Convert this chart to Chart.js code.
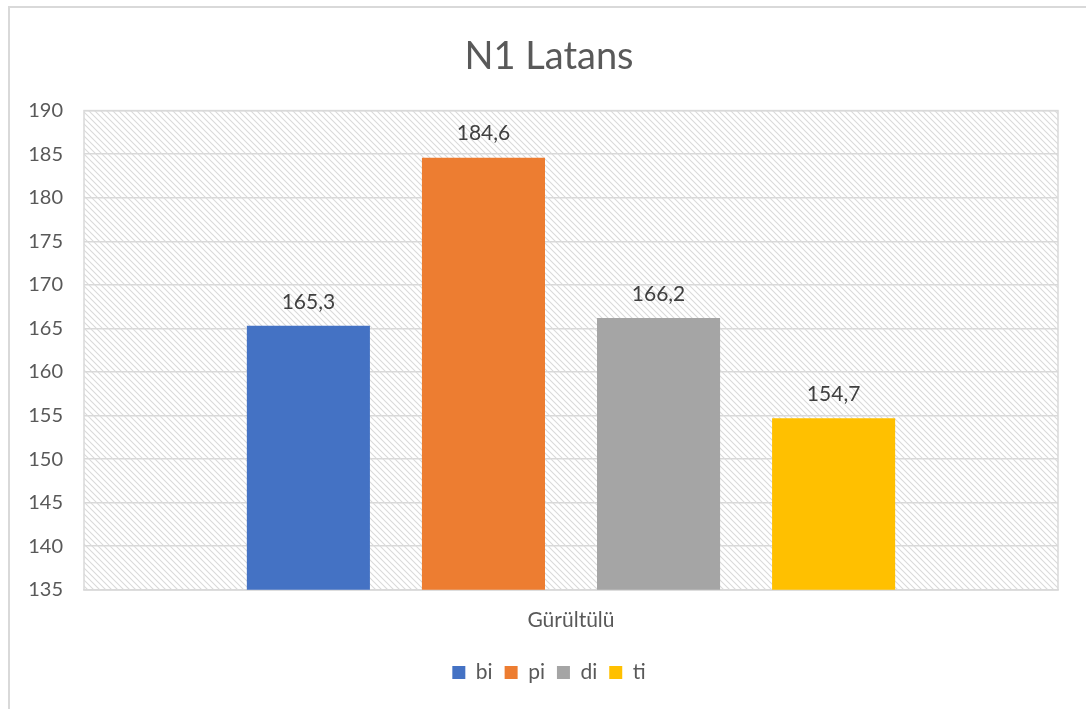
<!DOCTYPE html>
<html><head><meta charset="utf-8">
<script src="https://cdn.jsdelivr.net/npm/chart.js@4.4.1/dist/chart.umd.min.js"></script>
<style>
html,body{margin:0;padding:0;background:#fff;overflow:hidden;}
#wrap{position:absolute;left:8px;top:0;width:1082px;height:709px;}
#frame{position:absolute;left:8px;top:6px;width:1082px;height:720px;border:2px solid #d9d9d9;box-sizing:border-box;pointer-events:none;}
</style></head>
<body>
<div id="wrap"><canvas id="c" width="1082" height="709"></canvas></div>
<div id="frame"></div>
<script>
const categories = ["Gürültülü"];
const seriesNames = ["bi", "pi", "di", "ti"];
const seriesValues = [[165.3], [184.6], [166.2], [154.7]];
const seriesColors = ["#4472C4", "#ED7D31", "#A5A5A5", "#FFC000"];
const yMin = 135, yMax = 190, yStep = 5;
const FONT = 'Lato, "Open Sans", sans-serif';

function makePattern(ctx){
  const p = document.createElement('canvas');
  p.width = 6; p.height = 6;
  const g = p.getContext('2d');
  g.fillStyle = '#ffffff'; g.fillRect(0,0,6,6);
  g.strokeStyle = '#dadada'; g.lineWidth = 1.1;
  g.beginPath();
  g.moveTo(-2,-2); g.lineTo(8,8);
  g.moveTo(-8,-2); g.lineTo(2,8);
  g.moveTo(4,-2); g.lineTo(14,8);
  g.stroke();
  return ctx.createPattern(p,'repeat');
}

const bgPlugin = {
  id:'bg',
  beforeDraw(chart){
    const {ctx, chartArea:a} = chart;
    ctx.save();
    ctx.fillStyle = makePattern(ctx);
    ctx.fillRect(a.left, a.top, a.right-a.left, a.bottom-a.top);
    ctx.strokeStyle = '#d9d9d9'; ctx.lineWidth = 1.5;
    ctx.strokeRect(a.left, a.top, a.right-a.left, a.bottom-a.top);
    ctx.restore();
  }
};
const labelPlugin = {
  id:'vals',
  afterDatasetsDraw(chart){
    const ctx = chart.ctx;
    ctx.save();
    ctx.font = '21px ' + FONT;
    ctx.fillStyle = '#404040';
    ctx.textAlign = 'center';
    ctx.textBaseline = 'middle';
    chart.data.datasets.forEach((ds,i)=>{
      const meta = chart.getDatasetMeta(i);
      meta.data.forEach((bar,j)=>{
        ctx.fillText(String(ds.data[j]).replace('.',','), bar.x, bar.y-24);
      });
    });
    ctx.restore();
  }
};

new Chart(document.getElementById('c'), {
  type:'bar',
  data:{
    labels: categories,
    datasets: seriesNames.map((n,i)=>({
      label:n, data:seriesValues[i], backgroundColor:seriesColors[i],
      categoryPercentage:0.719, barPercentage:0.703
    }))
  },
  options:{
    responsive:false, animation:false,
    layout:{padding:{left:0, right:0, top:22, bottom:16}},
    plugins:{
      title:{display:true, text:'N1 Latans', color:'#595959',
        font:{size:38, family:FONT, weight:'normal'},
        padding:{top:12, bottom:31}},
      legend:{position:'bottom', labels:{boxWidth:13, boxHeight:13, color:'#595959',
        font:{size:21, family:FONT}, padding:12}},
      tooltip:{enabled:false}
    },
    scales:{
      x:{grid:{display:false}, border:{color:'#d9d9d9', width:1.5},
        ticks:{color:'#595959', padding:10, font:{size:21, family:FONT}},
        afterFit(s){ s.height = s.height + 7; }},
      y:{min:yMin, max:yMax, ticks:{stepSize:yStep, color:'#595959', padding:21,
          font:{size:20, family:FONT}},
        afterFit(s){ s.width = 76; },
        grid:{color:'#d9d9d9', lineWidth:1.5, drawTicks:false},
        border:{display:false}},
      yRight:{position:'right', display:true, min:yMin, max:yMax,
        ticks:{display:false}, grid:{display:false}, border:{display:false},
        afterFit(s){ s.width = 32; }}
    }
  },
  plugins:[bgPlugin, labelPlugin]
});
</script>
</body></html>
